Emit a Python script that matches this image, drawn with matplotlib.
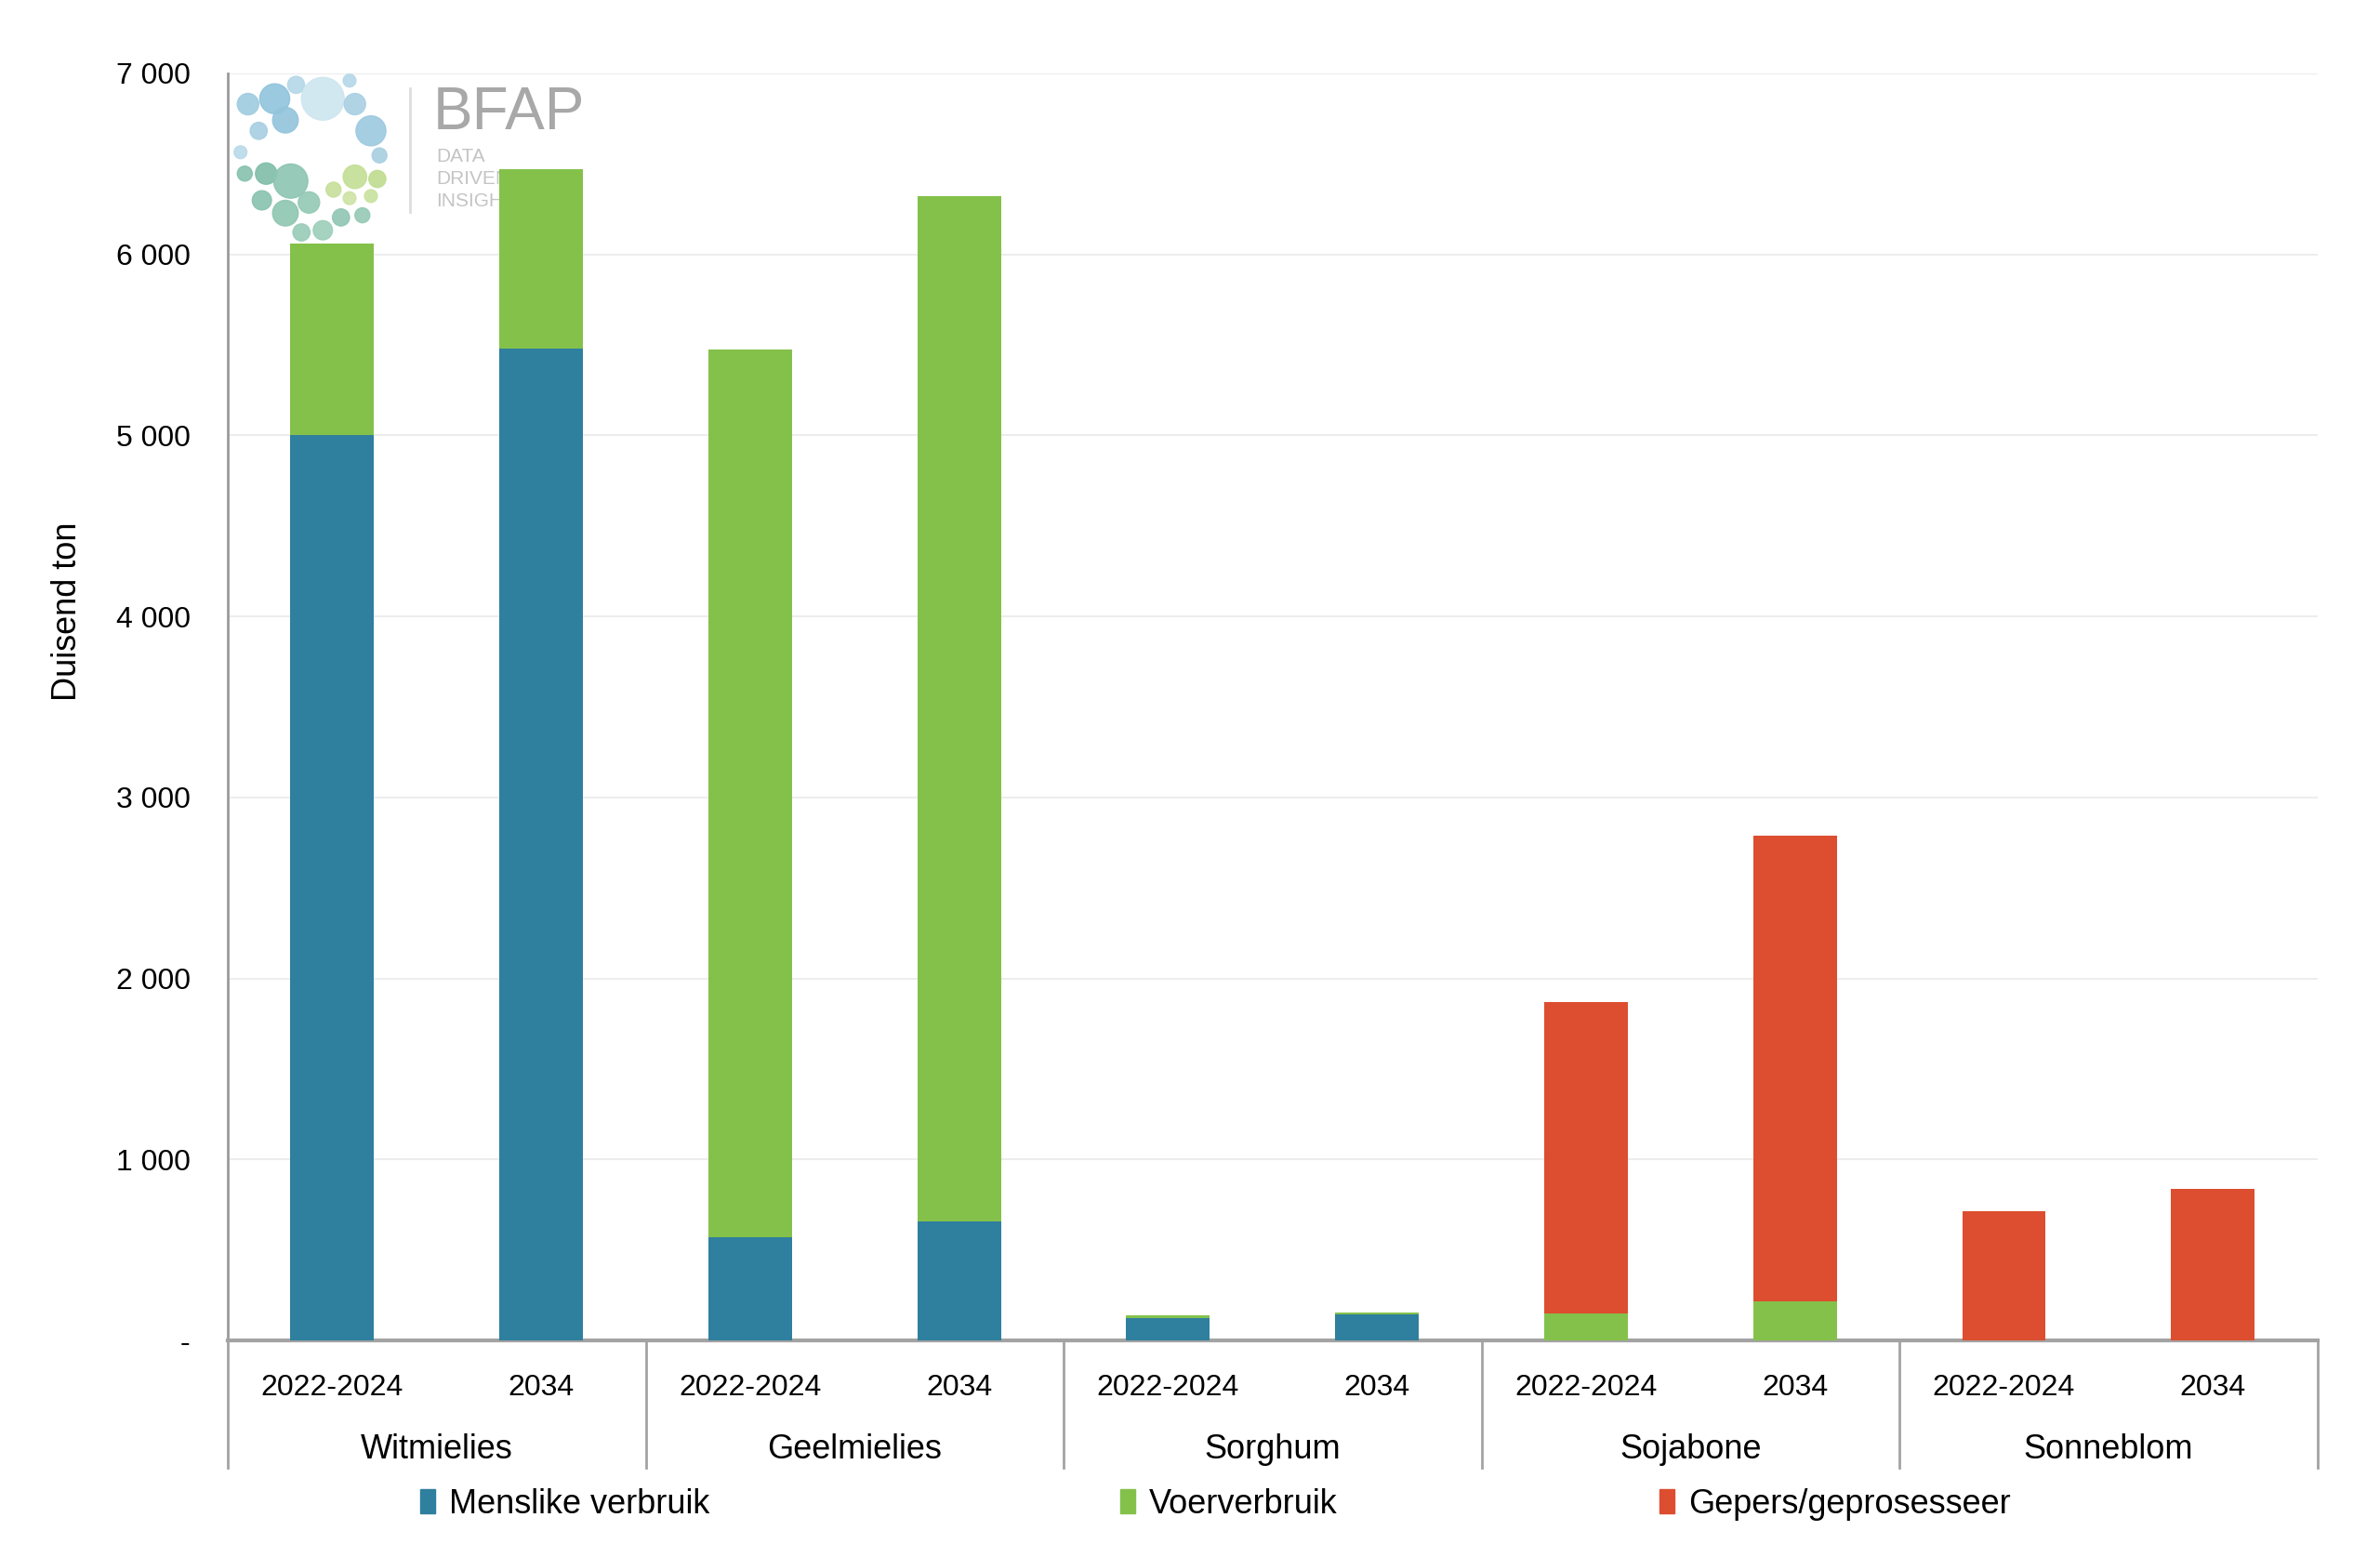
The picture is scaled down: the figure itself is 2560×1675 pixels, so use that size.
import matplotlib
matplotlib.use('Agg')
import matplotlib.pyplot as plt
import matplotlib.transforms as mtransforms
import numpy as np
from matplotlib.patches import Circle, Patch
from matplotlib.ticker import FuncFormatter

plt.rcParams['font.family'] = ['Liberation Sans', 'DejaVu Sans']

# Data (thousand tons)
groups = ['Witmielies', 'Geelmielies', 'Sorghum', 'Sojabone', 'Sonneblom']
periods = ['2022-2024', '2034']
menslike = [5000, 5480, 570, 660, 125, 145, 0, 0, 0, 0]
voer = [1060, 990, 4905, 5660, 15, 8, 150, 218, 0, 0]
gepers = [0, 0, 0, 0, 0, 0, 1720, 2572, 715, 840]
series_names = ['Menslike verbruik', 'Voerverbruik', 'Gepers/geprosesseer']

blue = '#2f7f9e'
green = '#84c14a'
red = '#dc4e2f'

W, H = 2560, 1675
fig = plt.figure(figsize=(W / 100, H / 100), dpi=100)
ax = fig.add_axes([0.0957, 0.139, 0.878, 0.814])

x = np.arange(len(menslike))
m = np.array(menslike)
v = np.array(voer)
g = np.array(gepers)
ax.bar(x, m, 0.4, color=blue, zorder=3)
ax.bar(x, v, 0.4, bottom=m, color=green, zorder=3)
ax.bar(x, g, 0.4, bottom=m + v, color=red, zorder=3)

ax.set_xlim(-0.5, len(x) - 0.5)
ax.set_ylim(0, 7000)
ax.set_yticks(range(0, 7001, 1000))
ax.yaxis.set_major_formatter(FuncFormatter(
    lambda val, pos: '-' if val == 0 else f'{int(val):,}'.replace(',', ' ')))
ax.tick_params(axis='y', length=0, pad=29, labelsize=23)
ax.set_xticks([])
ax.set_axisbelow(True)
ax.grid(axis='y', color='#ededed', linewidth=1.5)

for s in ['top', 'right']:
    ax.spines[s].set_visible(False)
ax.spines['left'].set_color('#9a9a9a')
ax.spines['left'].set_linewidth(2)
ax.spines['bottom'].set_color('#a3a3a3')
ax.spines['bottom'].set_linewidth(3)

# Multi-level category axis
blend = mtransforms.blended_transform_factory(ax.transData, ax.transAxes)
for i in x:
    ax.text(i, -0.037, periods[i % 2], transform=blend, ha='center',
            va='center', fontsize=23)
for gi, name in enumerate(groups):
    ax.text(2 * gi + 0.5, -0.086, name, transform=blend, ha='center',
            va='center', fontsize=26)
for b in np.arange(-0.5, len(x), 2):
    ax.plot([b, b], [0, -0.100], transform=blend, color='#a3a3a3',
            linewidth=2, clip_on=False)

fig.text(73 / W, 1 - 658 / H, 'Duisend ton', rotation=90, ha='center',
         va='center', fontsize=26)

# Legend: one entry per block, placed like the original
legend_x = [452, 1205, 1785]
for c, name, lx in zip((blue, green, red), series_names, legend_x):
    fig.legend([Patch(color=c)], [name], loc='center left',
               bbox_to_anchor=(lx / W, 1 - 1618 / H), frameon=False,
               fontsize=26, handlelength=0.45, handleheight=0.75,
               handletextpad=0.4, borderpad=0, borderaxespad=0)

# BFAP watermark logo
ident = mtransforms.IdentityTransform()
cx, cy = 330, H - 158
k = 1.15
logo_dots = [
    (-55, 40, 10, '#9fcbe0'), (-30, 45, 14, '#8fc3dd'), (-10, 58, 8, '#b5d8e8'),
    (15, 45, 20, '#cde6ef'), (45, 40, 10, '#a9d0e3'), (-45, 15, 8, '#a7cfe2'),
    (-20, 25, 12, '#92c4dc'), (60, 15, 14, '#9cc9df'), (40, 62, 6, '#b5d8e8'),
    (-62, -5, 6, '#b8dae9'), (68, -8, 7, '#a8cfe2'),
    (-58, -25, 7, '#86c1ad'), (-38, -25, 10, '#7fbda8'), (-15, -32, 16, '#8cc5b1'),
    (-42, -50, 9, '#88c2ae'), (-20, -62, 12, '#8ec6b2'), (2, -52, 10, '#93c9b5'),
    (-5, -80, 8, '#98cbb8'), (15, -78, 9, '#9dceba'), (32, -66, 8, '#8fc6b3'),
    (52, -64, 7, '#95c9b6'),
    (25, -40, 7, '#c6df9a'), (45, -28, 11, '#c3de95'), (66, -30, 8, '#bfdc90'),
    (40, -48, 6, '#cce3a3'), (60, -46, 6, '#c8e19e'),
]
for dx, dy, r, c in logo_dots:
    ax.add_patch(Circle((cx + k * dx, cy + k * dy), k * r, color=c,
                        transform=ident, zorder=1, clip_on=False, alpha=0.9))
ax.plot([441 / W, 441 / W], [1 - 95 / H, 1 - 228 / H], transform=fig.transFigure,
        color='#dddddd', linewidth=2, zorder=1)
ax.text(466 / W, 1 - 122 / H, 'BFAP', transform=fig.transFigure, fontsize=46,
        color='#a8a8a8', va='center', ha='left', zorder=1)
for yy, word in zip([168, 192, 216], ['DATA', 'DRIVEN', 'INSIGHTS']):
    ax.text(469 / W, 1 - yy / H, word, transform=fig.transFigure, fontsize=15,
            color='#c4c4c4', va='center', ha='left', zorder=1)

fig.savefig('out.png', dpi=100, facecolor='white')
